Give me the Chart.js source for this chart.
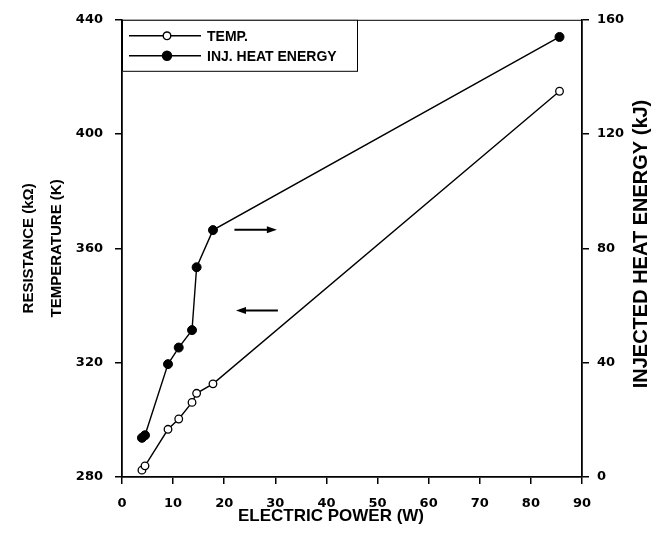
<!DOCTYPE html>
<html>
<head>
<meta charset="utf-8">
<script src="https://cdn.jsdelivr.net/npm/chart.js@4/dist/chart.umd.min.js"></script>
<style>
  html, body { margin: 0; padding: 0; background: #fff; }
  #wrap { width: 660px; height: 535px; }
</style>
</head>
<body>
<div id="wrap"><canvas id="myChart" width="660" height="535"></canvas></div>
<script>
// values
const power = [3.9, 4.5, 9.0, 11.1, 13.7, 14.6, 17.8, 85.6];
const temp = [282.4, 283.9, 296.7, 300.3, 306.1, 309.3, 312.6, 415.0];
const heatEnergy = [13.7, 14.6, 39.5, 45.3, 51.4, 73.4, 86.4, 154.0];

const powerTicks = [0, 10, 20, 30, 40, 50, 60, 70, 80, 90];
const tempTicks = [280, 320, 360, 400, 440];
const energyTicks = [0, 40, 80, 120, 160];

// the two arrows pointing at each curve's axis (temperature-axis units)
const arrowY = [366.5, 338.3];
const arrowFrom = [22.0, 30.5];
const arrowTo = [30.3, 22.3];

const FONT = "'Liberation Sans', Arial, Helvetica, sans-serif";
const TICK_FONT = { family: "'DejaVu Sans', sans-serif", size: 13, weight: "bold" };

Chart.defaults.font.family = FONT;
Chart.defaults.color = "#000";

const toXY = (xs, ys) => xs.map((x, i) => ({ x: x, y: ys[i] }));
const setTicks = (arr) => (scale) => { scale.ticks = arr.map((v) => ({ value: v })); };

// legend box, frame top line, arrows and axis titles the library can't place
const extras = {
  id: "extras",
  afterDraw(chart) {
    const ctx = chart.ctx;
    const area = chart.chartArea;
    const x = chart.scales.x;
    const y = chart.scales.y;
    ctx.save();

    // top frame line
    ctx.strokeStyle = "#000";
    ctx.lineWidth = 1;
    ctx.beginPath();
    ctx.moveTo(area.left, area.top + 0.5);
    ctx.lineTo(area.right, area.top + 0.5);
    ctx.stroke();

    // arrows
    ctx.lineWidth = 2;
    ctx.fillStyle = "#000";
    arrowY.forEach((v, i) => {
      const py = y.getPixelForValue(v);
      const x0 = x.getPixelForValue(arrowFrom[i]);
      const x1 = x.getPixelForValue(arrowTo[i]);
      const dir = Math.sign(x1 - x0);
      ctx.beginPath();
      ctx.moveTo(x0, py);
      ctx.lineTo(x1 - dir * 8, py);
      ctx.stroke();
      ctx.beginPath();
      ctx.moveTo(x1, py);
      ctx.lineTo(x1 - dir * 10, py - 3.5);
      ctx.lineTo(x1 - dir * 10, py + 3.5);
      ctx.closePath();
      ctx.fill();
    });

    // legend
    const lx = area.left;
    const ly = area.top;
    ctx.lineWidth = 1;
    ctx.strokeStyle = "#000";
    ctx.fillStyle = "#fff";
    ctx.fillRect(lx, ly, 236, 52);
    ctx.strokeRect(lx + 0.5, ly + 0.5, 235, 51);
    const rows = [
      { label: "TEMP.", fill: "#fff", r: 3.8, y: ly + 16 },
      { label: "INJ. HEAT ENERGY", fill: "#000", r: 4.5, y: ly + 36 },
    ];
    rows.forEach((row) => {
      ctx.lineWidth = 1.4;
      ctx.strokeStyle = "#000";
      ctx.beginPath();
      ctx.moveTo(lx + 7, row.y);
      ctx.lineTo(lx + 79, row.y);
      ctx.stroke();
      ctx.beginPath();
      ctx.arc(lx + 45, row.y, row.r, 0, Math.PI * 2);
      ctx.fillStyle = row.fill;
      ctx.fill();
      ctx.stroke();
      ctx.fillStyle = "#000";
      ctx.font = "bold 14px " + FONT;
      ctx.textAlign = "left";
      ctx.textBaseline = "middle";
      ctx.fillText(row.label, lx + 85, row.y + 1);
    });

    // x axis title sits a little left of centre in the original
    ctx.font = "bold 17px " + FONT;
    ctx.textAlign = "center";
    ctx.textBaseline = "middle";
    ctx.fillText("ELECTRIC POWER (W)", 331, 516);

    // right axis title, reading bottom to top
    ctx.translate(641, 244);
    ctx.rotate(-Math.PI / 2);
    ctx.font = "bold 20px " + FONT;
    ctx.fillText("INJECTED HEAT ENERGY (kJ)", 0, 0);
    ctx.restore();
  },
};

const ctx = document.getElementById("myChart").getContext("2d");
const myChart = new Chart(ctx, {
  type: "line",
  data: {
    datasets: [
      {
        label: "TEMP.",
        data: toXY(power, temp),
        yAxisID: "y",
        borderColor: "#000",
        borderWidth: 1.4,
        pointRadius: 3.8,
        pointBackgroundColor: "#fff",
        pointBorderColor: "#000",
        pointBorderWidth: 1.3,
        tension: 0,
      },
      {
        label: "INJ. HEAT ENERGY",
        data: toXY(power, heatEnergy),
        yAxisID: "y2",
        borderColor: "#000",
        borderWidth: 1.4,
        pointRadius: 4.5,
        pointBackgroundColor: "#000",
        pointBorderColor: "#000",
        pointBorderWidth: 1,
        tension: 0,
      },
    ],
  },
  options: {
    responsive: false,
    animation: false,
    layout: { padding: { top: 15, left: 0, right: 0, bottom: 0 } },
    plugins: { legend: { display: false }, tooltip: { enabled: false } },
    scales: {
      x: {
        type: "linear",
        position: "bottom",
        min: powerTicks[0],
        max: powerTicks[powerTicks.length - 1],
        afterBuildTicks: setTicks(powerTicks),
        afterFit: (s) => { s.height = 58; },
        grid: { drawOnChartArea: false, tickLength: 7, color: "#000", lineWidth: 1.5 },
        border: { color: "#000", width: 1.8 },
        ticks: { font: TICK_FONT, padding: 12, maxRotation: 0, color: "#000" },
        title: { display: false },
      },
      y: {
        type: "linear",
        position: "left",
        min: tempTicks[0],
        max: tempTicks[tempTicks.length - 1],
        afterBuildTicks: setTicks(tempTicks),
        afterFit: (s) => { s.width = 122; },
        grid: { drawOnChartArea: false, tickLength: 7, color: "#000", lineWidth: 1.5 },
        border: { color: "#000", width: 1.8 },
        ticks: { font: TICK_FONT, padding: 12, color: "#000" },
        title: {
          display: true,
          text: ["RESISTANCE (k\u03A9)", "TEMPERATURE (K)"],
          color: "#000",
          font: { size: 15, weight: "bold", lineHeight: 1.867 },
          padding: { top: 15, bottom: 0 },
        },
      },
      y2: {
        type: "linear",
        position: "right",
        min: energyTicks[0],
        max: energyTicks[energyTicks.length - 1],
        afterBuildTicks: setTicks(energyTicks),
        afterFit: (s) => { s.width = 78; },
        grid: { drawOnChartArea: false, tickLength: 7, color: "#000", lineWidth: 1.5 },
        border: { color: "#000", width: 1.8 },
        ticks: { font: TICK_FONT, padding: 8, color: "#000" },
        title: { display: false },
      },
    },
  },
  plugins: [extras],
});
</script>
</body>
</html>
